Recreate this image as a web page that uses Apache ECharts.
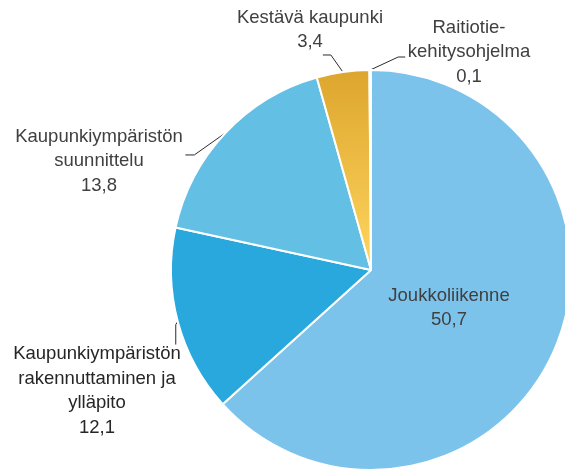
<!DOCTYPE html>
<html>
<head>
<meta charset="utf-8">
<script src="https://cdn.jsdelivr.net/npm/echarts@6/dist/echarts.min.js"></script>
<style>
  html, body { margin: 0; padding: 0; background: #fff; }
  #chart { width: 565px; height: 472px; }
</style>
</head>
<body>
<div id="chart"></div>
<script>
// Budget shares by area (M€)
const categories = [
  'Joukkoliikenne',
  'Kaupunkiympäristön\nrakennuttaminen ja\nylläpito',
  'Kaupunkiympäristön\nsuunnittelu',
  'Kestävä kaupunki',
  'Raitiotie-\nkehitysohjelma'
];
const values = [50.7, 12.1, 13.8, 3.4, 0.1];

const gold = {
  type: 'linear', x: 0, y: 0, x2: 0, y2: 1,
  colorStops: [{ offset: 0, color: '#DDA52D' }, { offset: 1, color: '#FFD65F' }]
};
const sliceColors = ['#7CC3EC', '#28A8DC', '#63BFE4', gold, gold];

// Where each label block sits, and how its leader line bends away from the slice edge
const labelPlacement = [
  { x: 449, y: 308, line: null },
  { x: 97, y: 391, line: [[-2, 3], [-2, 23]] },
  { x: 99, y: 161, line: [[-31, 22], [-40, 22]] },
  { x: 310, y: 30, line: [[-12, -17], [-20, -17]] },
  { x: 469, y: 52, line: [[28, -13], [35, -13]] }
];
const labelColors = ['#404040', '#262626', '#404040', '#404040', '#404040'];

const fmt = v => String(v).replace('.', ',');

const chart = echarts.init(document.getElementById('chart'), null, { renderer: 'canvas' });
chart.setOption({
  animation: false,
  backgroundColor: '#fff',
  series: [{
    type: 'pie',
    center: [371, 270],
    radius: [0, 200],
    startAngle: 90,
    clockwise: true,
    avoidLabelOverlap: false,
    itemStyle: { borderColor: '#fff', borderWidth: 2 },
    label: {
      show: true,
      position: 'outside',
      fontFamily: 'Liberation Sans',
      fontSize: 18.5,
      lineHeight: 24.5,
      formatter: p => p.name + '\n' + fmt(p.value)
    },
    labelLine: {
      show: true,
      length: 10,
      length2: 10,
      lineStyle: { color: '#2b2b2b', width: 1 }
    },
    labelLayout: function (params) {
      const pl = labelPlacement[params.dataIndex];
      const out = { x: pl.x, y: pl.y, align: 'center', verticalAlign: 'middle' };
      if (pl.line && params.labelLinePoints) {
        const p0 = params.labelLinePoints[0];
        out.labelLinePoints = [p0].concat(pl.line.map(d => [p0[0] + d[0], p0[1] + d[1]]));
      }
      return out;
    },
    data: categories.map((name, i) => ({
      name: name,
      value: values[i],
      itemStyle: { color: sliceColors[i] },
      label: Object.assign({ color: labelColors[i] }, i === 0 ? { position: 'inside' } : {}),
      labelLine: i === 0 ? { show: false } : undefined
    }))
  }]
});
</script>
</body>
</html>
